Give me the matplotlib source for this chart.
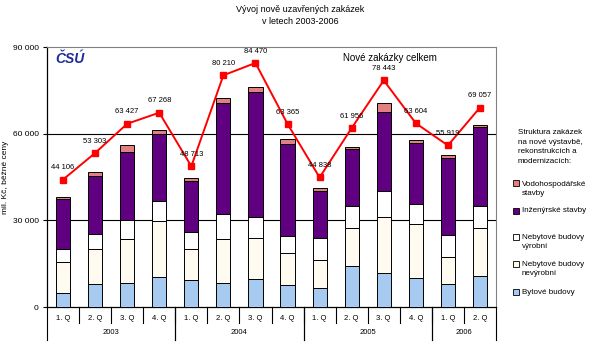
import matplotlib
matplotlib.use('Agg')
import matplotlib.pyplot as plt
import matplotlib.transforms as mtransforms
from matplotlib.patches import Rectangle
import numpy as np

plt.rcParams['font.family'] = ['Liberation Sans', 'DejaVu Sans']

# Quarters and years on the two-level category axis
quarters = ['1. Q', '2. Q', '3. Q', '4. Q', '1. Q', '2. Q', '3. Q', '4. Q',
            '1. Q', '2. Q', '3. Q', '4. Q', '1. Q', '2. Q']
years = ['2003', '2004', '2005', '2006']
year_counts = [4, 4, 4, 2]

# Stacked bar segments (mil. Kc)
bytove = [4740, 7850, 8200, 10270, 9240, 8200, 9590, 7500, 6470, 14190, 11870, 9930, 7960, 10730]
nevyrobni = [10940, 12120, 15230, 19500, 10730, 15230, 14190, 11090, 9800, 13160, 19180, 18700, 9450, 16620]
vyrobni = [4290, 5190, 6670, 6810, 5880, 8650, 7480, 6100, 7510, 7510, 9100, 6920, 7510, 7510]
inzenyrske = [17310, 20190, 23670, 23190, 17650, 38640, 43050, 31620, 16270, 19730, 27500, 21110, 26550, 27550]
vodohosp = [800, 1270, 2310, 1390, 1040, 1520, 1740, 1730, 1040, 690, 2910, 1040, 1250, 700]

# Total new contracts (line)
celkem = [44106, 53303, 63427, 67268, 48713, 80210, 84470, 63365,
          44838, 61956, 78443, 63604, 55919, 69057]

series = [
    (bytove, '#A6CAF0', 'Bytové budovy'),
    (nevyrobni, '#FFFBF0', 'Nebytové budovy\nnevýrobní'),
    (vyrobni, '#FFFFFF', 'Nebytové budovy\nvýrobní'),
    (inzenyrske, '#600080', 'Inženýrské stavby'),
    (vodohosp, '#E08080', 'Vodohospodářské\nstavby'),
]

W, H = 592, 350
fig = plt.figure(figsize=(W / 100, H / 100), dpi=100)
ax = fig.add_axes([47 / W, 1 - 307 / H, (496 - 47) / W, (307 - 47) / H])

x = np.arange(len(quarters))
bottom = np.zeros(len(x))
for vals, color, label in series:
    ax.bar(x, vals, width=0.44, bottom=bottom, color=color, edgecolor='black',
           linewidth=0.7, zorder=3)
    bottom += np.array(vals)

ax.plot(x, celkem, color='#FF0000', linewidth=1.4, marker='s', markersize=5,
        zorder=4)
for xi, v in zip(x, celkem):
    txt = f'{v:,}'.replace(',', ' ')
    ax.annotate(txt, (xi, v), xytext=(0, 6), textcoords='offset points',
                ha='center', va='bottom', fontsize=5.5, zorder=5)

ax.set_xlim(-0.5, len(x) - 0.5)
ax.set_ylim(0, 90000)
ax.set_yticks([0, 30000, 60000, 90000])
ax.set_yticklabels(['0', '30 000', '60 000', '90 000'], fontsize=6)
ax.tick_params(axis='y', direction='out', length=3, width=0.8, pad=3)
ax.set_xticks([])
for y in [30000, 60000]:
    ax.axhline(y, color='black', linewidth=0.8, zorder=1)

for side in ['top', 'right']:
    ax.spines[side].set_color('#808080')
ax.spines['left'].set_linewidth(0.9)
ax.spines['bottom'].set_linewidth(0.9)

ax.set_ylabel('mil. Kč, běžné ceny', fontsize=6)
ax.yaxis.set_label_coords(-38 / 449, 0.5)

# Two-level category labels
trans = mtransforms.blended_transform_factory(ax.transData, ax.transAxes)
for xi, q in zip(x, quarters):
    ax.text(xi, -0.045, q, transform=trans, ha='center', va='center', fontsize=5.5)
for xi in x[:-1] + 0.5:
    ax.plot([xi, xi], [0, -0.062], transform=trans, color='black',
            linewidth=0.8, clip_on=False)
start = -0.5
for yr, n in zip(years, year_counts):
    ax.text(start + n / 2, -0.1, yr, transform=trans, ha='center', va='center',
            fontsize=5.5)
    for xb in [start, start + n]:
        ax.plot([xb, xb], [0, -0.127], transform=trans, color='black',
                linewidth=0.8, clip_on=False)
    start += n

# Titles and annotations
fig.text(300 / W, 1 - 9 / H, 'Vývoj nově uzavřených zakázek', ha='center',
         va='center', fontsize=6.5)
fig.text(300 / W, 1 - 21 / H, 'v letech 2003-2006', ha='center', va='center',
         fontsize=6.5)
ax.text(0.764, 0.957, 'Nové zakázky celkem', transform=ax.transAxes,
        ha='center', va='center', fontsize=7)
ax.text(0.018, 0.955, 'ČSÚ', transform=ax.transAxes, ha='left', va='center',
        fontsize=10, fontweight='bold', style='italic', color='#1C2C9C')

# Legend drawn by hand on the right
fig.text(518 / W, 1 - 147 / H,
         'Struktura zakázek\nna nové výstavbě,\nrekonstrukcích a\nmodernizacích:',
         ha='left', va='center', fontsize=5.8, linespacing=1.55)
legend_y = [189, 211, 242, 269, 292]
for (vals, color, label), ly in zip(reversed(series), legend_y):
    nl = label.count('\n')
    top_line = ly - nl * 5.5
    fig.patches.append(Rectangle((513 / W, 1 - (top_line + 3) / H), 6 / W, 6 / H,
                                 transform=fig.transFigure, facecolor=color,
                                 edgecolor='black', linewidth=0.6))
    fig.text(522 / W, 1 - ly / H, label, ha='left', va='center', fontsize=5.8,
             linespacing=1.3)

fig.savefig('out.png', dpi=100)
